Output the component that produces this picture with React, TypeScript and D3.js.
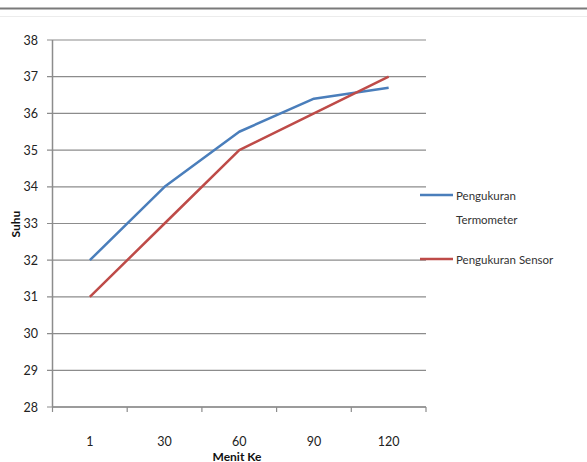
import React from "react";
import * as d3 from "d3";

const categories = ["1", "30", "60", "90", "120"];
const termometer = [32, 34, 35.5, 36.4, 36.7];
const sensor = [31, 33, 35, 36, 37];
const yTicks = [28, 29, 30, 31, 32, 33, 34, 35, 36, 37, 38];
const seriesNames = ["Pengukuran Termometer", "Pengukuran Sensor"];
const colors = ["#4a7ebb", "#be4b48"];

const W = 587;
const H = 462;
const font = "Lato, 'Open Sans', sans-serif";

export default function App() {
  const x = d3.scaleBand<string>().domain(categories).range([52.5, 426]);
  const y = d3.scaleLinear().domain([28, 38]).range([407, 40]);
  const line = d3
    .line<number>()
    .x((_, i) => (x(categories[i]) as number) + x.bandwidth() / 2)
    .y((d) => y(d));
  const tickXs = d3.range(categories.length + 1).map((i) => 52.5 + i * x.step());
  const series = [termometer, sensor];

  return (
    <svg
      width={W}
      height={H}
      style={{ position: "fixed", left: 0, top: 0, background: "#fff" }}
      fontFamily={font}
    >
      <rect x={0} y={0} width={W} height={H} fill="#fff" />
      <line x1={0} x2={W} y1={8.5} y2={8.5} stroke="#7a7a7a" strokeWidth={2} />
      <line x1={0} x2={W} y1={16.5} y2={16.5} stroke="#ececec" strokeWidth={1} />
      {yTicks.map((t) => (
        <g key={t}>
          <line x1={47} x2={426} y1={y(t)} y2={y(t)} stroke="#8c8c8c" strokeWidth={1.2} />
          <text
            x={38}
            y={y(t)}
            textAnchor="end"
            dominantBaseline="central"
            fontSize={12.5}
            fill="#222"
          >
            {t}
          </text>
        </g>
      ))}
      <line x1={52.5} x2={52.5} y1={40} y2={407} stroke="#8c8c8c" strokeWidth={1.5} />
      <line x1={52.5} x2={426} y1={407} y2={407} stroke="#8c8c8c" strokeWidth={1.5} />
      {tickXs.map((tx, i) => (
        <line key={i} x1={tx} x2={tx} y1={407} y2={412} stroke="#8c8c8c" strokeWidth={1.2} />
      ))}
      {categories.map((c) => (
        <text
          key={c}
          x={(x(c) as number) + x.bandwidth() / 2}
          y={441}
          textAnchor="middle"
          dominantBaseline="central"
          fontSize={12.5}
          fill="#222"
        >
          {c}
        </text>
      ))}
      {series.map((s, i) => (
        <path
          key={i}
          d={line(s) as string}
          fill="none"
          stroke={colors[i]}
          strokeWidth={2.5}
          strokeLinejoin="round"
        />
      ))}
      <text
        x={237}
        y={456}
        textAnchor="middle"
        dominantBaseline="central"
        fontSize={12}
        fontWeight="bold"
        fill="#111"
      >
        Menit Ke
      </text>
      <text
        transform="translate(15,224) rotate(-90)"
        textAnchor="middle"
        dominantBaseline="central"
        fontSize={12}
        fontWeight="bold"
        fill="#111"
      >
        Suhu
      </text>
      <line x1={420} x2={453} y1={195} y2={195} stroke={colors[0]} strokeWidth={2.5} />
      <text x={456} y={195} dominantBaseline="central" fontSize={11.5} fill="#333">
        Pengukuran
      </text>
      <text x={456} y={219} dominantBaseline="central" fontSize={11.5} fill="#333">
        Termometer
      </text>
      <line x1={420} x2={453} y1={259} y2={259} stroke={colors[1]} strokeWidth={2.5} />
      <text x={456} y={259} dominantBaseline="central" fontSize={11.5} fill="#333">
        {seriesNames[1]}
      </text>
    </svg>
  );
}
